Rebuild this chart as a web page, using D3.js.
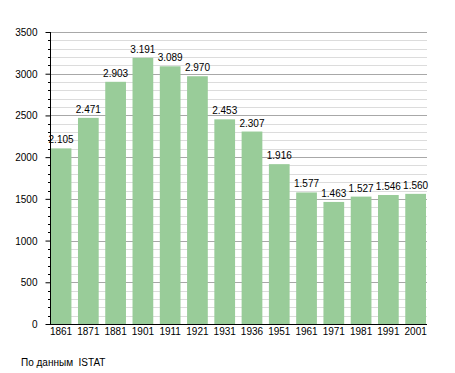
<!DOCTYPE html>
<html>
<head>
<meta charset="utf-8">
<script src="https://cdn.jsdelivr.net/npm/d3@7"></script>
<style>
  body { margin: 0; background: #fff; }
  svg text { font-family: "Liberation Sans", Arial, sans-serif; font-size: 10px; fill: #000; }
</style>
</head>
<body>
<div id="chart"></div>
<script>
  // data
  const years = ['1861', '1871', '1881', '1901', '1911', '1921', '1931', '1936', '1951', '1961', '1971', '1981', '1991', '2001'];
  const population = [2105, 2471, 2903, 3191, 3089, 2970, 2453, 2307, 1916, 1577, 1463, 1527, 1546, 1560];
  const yTicks = [0, 500, 1000, 1500, 2000, 2500, 3000, 3500];
  const source = 'По данным  ISTAT';

  const width = 455;
  const height = 373;
  const plot = { left: 50, right: 427, top: 32, bottom: 324 };

  const svg = d3.select('#chart')
    .append('svg')
    .attr('width', width)
    .attr('height', height);

  let x = d3.scaleBand()
    .domain(years)
    .range([plot.left + 0.7, plot.right - 1])
    .paddingInner(0.24)
    .paddingOuter(0);

  let y = d3.scaleLinear()
    .domain([0, 3500])
    .range([plot.bottom, plot.top]);

  // minor grid every 100
  let minor = d3.range(100, 3600, 100).filter(v => v % 500 !== 0);
  svg.append('g')
    .selectAll('line')
    .data(minor)
    .enter()
    .append('line')
    .attr('x1', plot.left)
    .attr('x2', plot.right)
    .attr('y1', d => Math.round(y(d)) + 0.5)
    .attr('y2', d => Math.round(y(d)) + 0.5)
    .attr('stroke', '#dcdcdc');

  // major grid every 500
  svg.append('g')
    .selectAll('line')
    .data(yTicks.filter(v => v > 0))
    .enter()
    .append('line')
    .attr('x1', plot.left)
    .attr('x2', plot.right)
    .attr('y1', d => Math.round(y(d)) + 0.5)
    .attr('y2', d => Math.round(y(d)) + 0.5)
    .attr('stroke', '#a8a8a8');

  // bars
  svg.append('g')
    .selectAll('rect')
    .data(population)
    .enter()
    .append('rect')
    .attr('x', (d, i) => x(years[i]))
    .attr('y', d => y(d))
    .attr('width', x.bandwidth())
    .attr('height', d => plot.bottom - y(d))
    .attr('fill', '#99cc99');

  // value labels
  svg.append('g')
    .selectAll('text')
    .data(population)
    .enter()
    .append('text')
    .attr('x', (d, i) => x(years[i]) + x.bandwidth() / 2)
    .attr('y', d => y(d) - 5)
    .attr('text-anchor', 'middle')
    .text(d => d3.format(',')(d).replace(',', '.'));

  // y axis with minor ticks
  let yAxis = d3.axisLeft(y)
    .tickValues(yTicks)
    .tickSize(5)
    .tickPadding(8)
    .tickFormat(d3.format('d'));
  let gY = svg.append('g')
    .attr('transform', `translate(${plot.left + 0.5},0)`)
    .call(yAxis);
  gY.select('.domain').remove();
  gY.selectAll('.tick line').attr('stroke', '#000');
  gY.selectAll('.tick text').attr('dy', '0.35em');
  svg.append('g')
    .selectAll('line')
    .data(minor)
    .enter()
    .append('line')
    .attr('x1', plot.left - 2)
    .attr('x2', plot.left + 0.5)
    .attr('y1', d => Math.round(y(d)) + 0.5)
    .attr('y2', d => Math.round(y(d)) + 0.5)
    .attr('stroke', '#000');
  svg.append('line')
    .attr('x1', plot.left + 0.5)
    .attr('x2', plot.left + 0.5)
    .attr('y1', plot.top)
    .attr('y2', plot.bottom + 1)
    .attr('stroke', '#000');

  // x axis
  let xAxis = d3.axisBottom(x).tickSize(0).tickPadding(4);
  let gX = svg.append('g')
    .attr('transform', `translate(0,${plot.bottom})`)
    .call(xAxis);
  gX.select('.domain').remove();
  svg.append('line')
    .attr('x1', plot.left)
    .attr('x2', plot.right)
    .attr('y1', plot.bottom + 0.5)
    .attr('y2', plot.bottom + 0.5)
    .attr('stroke', '#000');

  svg.selectAll('.tick text')
    .attr('font-family', '"Liberation Sans", Arial, sans-serif')
    .attr('font-size', 10)
    .attr('fill', '#000');

  // source note
  svg.append('text')
    .attr('x', 21)
    .attr('y', 366)
    .style('white-space', 'pre')
    .text(source);
</script>
</body>
</html>
